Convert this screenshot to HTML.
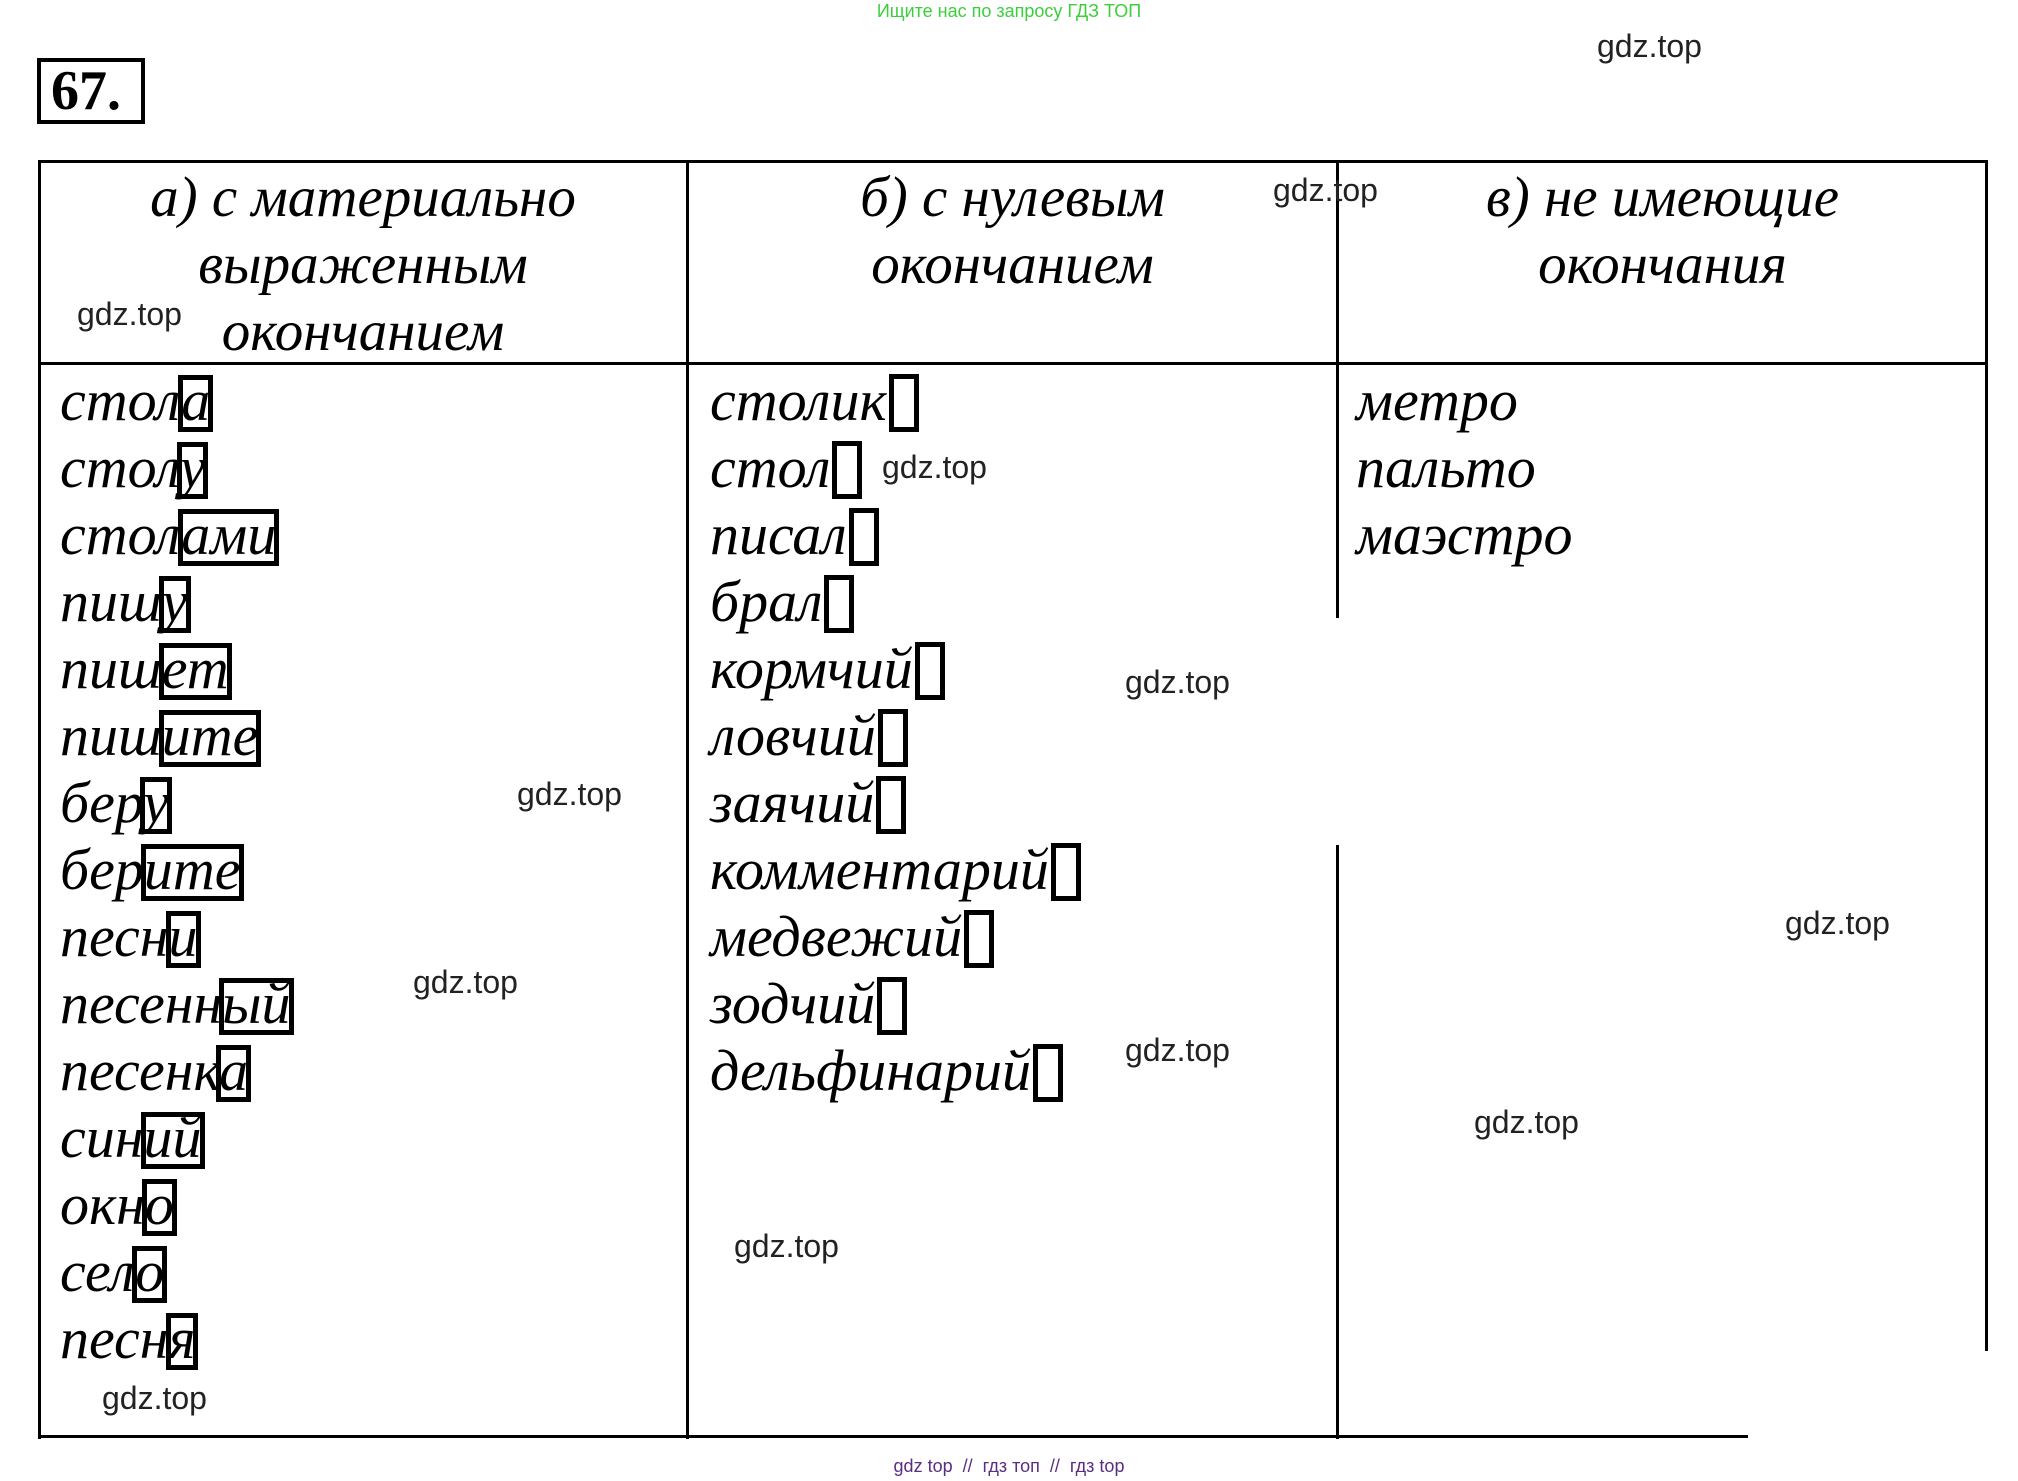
<!DOCTYPE html>
<html><head><meta charset="utf-8">
<style>
html,body{margin:0;padding:0;background:#fff;}
body{width:2018px;height:1481px;position:relative;overflow:hidden;}
.l{position:absolute;background:#000;}
.w{position:absolute;font-family:"Liberation Sans","DejaVu Sans",sans-serif;font-size:32px;color:#222;white-space:nowrap;line-height:1;}
.r{position:absolute;font-family:"Liberation Serif","DejaVu Serif",serif;font-style:italic;font-size:58px;line-height:67px;height:67px;white-space:nowrap;color:#000;}
.h{position:absolute;font-family:"Liberation Serif","DejaVu Serif",serif;font-style:italic;font-size:57px;line-height:67px;text-align:center;color:#000;}
.e{position:relative;}
.e::after{content:"";position:absolute;left:-3px;right:-3px;top:7px;height:57px;border:5px solid #000;box-sizing:border-box;}
.z{display:inline-block;width:30px;height:58px;border:5px solid #000;box-sizing:border-box;vertical-align:-12px;overflow:hidden;margin-left:2px;}
</style></head><body>
<div class="w" style="left:0;width:2018px;text-align:center;top:2px;font-size:18px;color:#3ccf3c;">Ищите нас по запросу ГДЗ ТОП</div>
<div style="position:absolute;left:37px;top:58px;width:108px;height:66px;border:4px solid #000;box-sizing:border-box;font-family:'Liberation Serif',serif;font-weight:bold;font-size:56px;line-height:58px;padding-left:10px;">67.</div>

<div class="l" style="left:38px;top:160px;width:1950px;height:3px;"></div>
<div class="l" style="left:38px;top:362px;width:1950px;height:3px;"></div>
<div class="l" style="left:38px;top:160px;width:3px;height:1279px;"></div>
<div class="l" style="left:686px;top:160px;width:3px;height:1279px;"></div>
<div class="l" style="left:1336px;top:160px;width:3px;height:458px;"></div>
<div class="l" style="left:1336px;top:845px;width:3px;height:594px;"></div>
<div class="l" style="left:1985px;top:160px;width:3px;height:1191px;"></div>
<div class="l" style="left:38px;top:1435px;width:1710px;height:3px;"></div>

<div class="h" style="left:40px;width:646px;top:164px;">а) с материально<br>выраженным<br>окончанием</div>
<div class="h" style="left:689px;width:647px;top:164px;">б) с нулевым<br>окончанием</div>
<div class="h" style="left:1339px;width:647px;top:164px;">в) не имеющие<br>окончания</div>

<div class="r" style="left:60px;top:367px;">стол<span class="e">а</span></div>
<div class="r" style="left:60px;top:434px;">стол<span class="e">у</span></div>
<div class="r" style="left:60px;top:501px;">стол<span class="e">ами</span></div>
<div class="r" style="left:60px;top:568px;">пиш<span class="e">у</span></div>
<div class="r" style="left:60px;top:635px;">пиш<span class="e">ет</span></div>
<div class="r" style="left:60px;top:702px;">пиш<span class="e">ите</span></div>
<div class="r" style="left:60px;top:769px;">бер<span class="e">у</span></div>
<div class="r" style="left:60px;top:836px;">бер<span class="e">ите</span></div>
<div class="r" style="left:60px;top:903px;">песн<span class="e">и</span></div>
<div class="r" style="left:60px;top:970px;">песенн<span class="e">ый</span></div>
<div class="r" style="left:60px;top:1037px;">песенк<span class="e">а</span></div>
<div class="r" style="left:60px;top:1104px;">син<span class="e">ий</span></div>
<div class="r" style="left:60px;top:1171px;">окн<span class="e">о</span></div>
<div class="r" style="left:60px;top:1238px;">сел<span class="e">о</span></div>
<div class="r" style="left:60px;top:1305px;">песн<span class="e">я</span></div>

<div class="r" style="left:710px;top:367px;">столик<span class="z"></span></div>
<div class="r" style="left:710px;top:434px;">стол<span class="z"></span></div>
<div class="r" style="left:710px;top:501px;">писал<span class="z"></span></div>
<div class="r" style="left:710px;top:568px;">брал<span class="z"></span></div>
<div class="r" style="left:710px;top:635px;">кормчий<span class="z"></span></div>
<div class="r" style="left:710px;top:702px;">ловчий<span class="z"></span></div>
<div class="r" style="left:710px;top:769px;">заячий<span class="z"></span></div>
<div class="r" style="left:710px;top:836px;">комментарий<span class="z"></span></div>
<div class="r" style="left:710px;top:903px;">медвежий<span class="z"></span></div>
<div class="r" style="left:710px;top:970px;">зодчий<span class="z"></span></div>
<div class="r" style="left:710px;top:1037px;">дельфинарий<span class="z"></span></div>

<div class="r" style="left:1356px;top:367px;">метро</div>
<div class="r" style="left:1356px;top:434px;">пальто</div>
<div class="r" style="left:1356px;top:501px;">маэстро</div>

<div class="w" style="left:1597px;top:30px;">gdz.top</div>
<div class="w" style="left:1273px;top:174px;">gdz.top</div>
<div class="w" style="left:77px;top:298px;">gdz.top</div>
<div class="w" style="left:882px;top:451px;">gdz.top</div>
<div class="w" style="left:1125px;top:666px;">gdz.top</div>
<div class="w" style="left:517px;top:778px;">gdz.top</div>
<div class="w" style="left:1785px;top:907px;">gdz.top</div>
<div class="w" style="left:413px;top:966px;">gdz.top</div>
<div class="w" style="left:1125px;top:1034px;">gdz.top</div>
<div class="w" style="left:1474px;top:1106px;">gdz.top</div>
<div class="w" style="left:734px;top:1230px;">gdz.top</div>
<div class="w" style="left:102px;top:1382px;">gdz.top</div>

<div class="w" style="left:0;width:2018px;text-align:center;top:1457px;font-size:18px;color:#5a2d82;">gdz top &nbsp;//&nbsp; гдз топ &nbsp;//&nbsp; гдз top</div>
</body></html>
